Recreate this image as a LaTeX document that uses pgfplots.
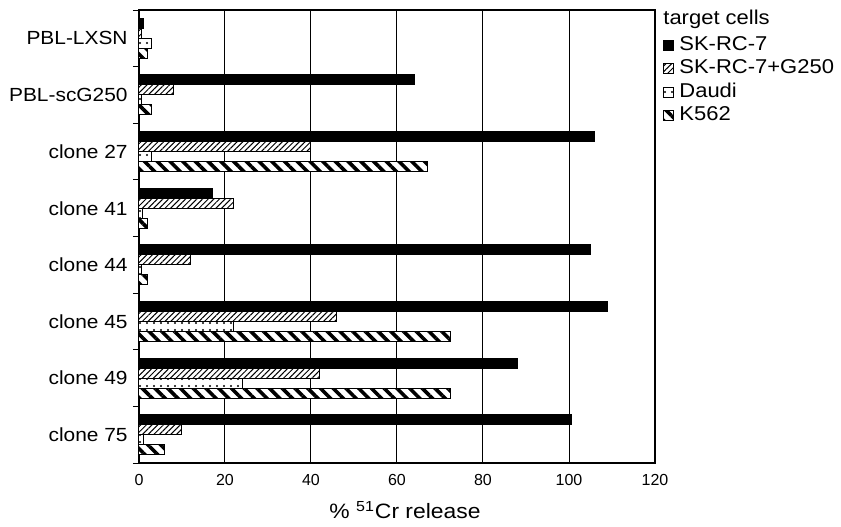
\documentclass[border=0pt]{standalone}
\usepackage{fontspec}
\setmainfont{Liberation Sans}[FakeStretch=1.1]
\newfontfamily\numfont{Liberation Sans}
\usepackage{pgfplots}
\usepackage{pgfplotstable}
\pgfplotsset{compat=1.18}
\usetikzlibrary{patterns.meta}

% % 51Cr release per effector population and target cell line
\pgfplotstableread{
cat sk    skg  daudi k562
0   1     0.5  3     2
1   64    8    0.5   3
2   106   40   3     67
3   17    22   0.7   2
4   105   12   0.5   2
5   109   46   22    72.5
6   88    42   24    72.5
7   100.5 10   1     6
}\release

\pgfplotsset{
  legimg/.style={legend image code/.code={
    \draw[##1, line width=0.5pt] (0pt,-2.5pt) rectangle (5pt,2.5pt);}},
  barline/.style={draw=black, line width=0.5pt},
}

\begin{document}
\begin{tikzpicture}
\path[use as bounding box] (-69.5pt,-31.5pt) rectangle (351pt,231.5pt);
\begin{axis}[
  scale only axis, width=258pt, height=226.5pt,
  xbar=0pt, bar width=5pt, clip=false,
  xmin=0, xmax=120, ymin=-0.5, ymax=7.5, y dir=reverse,
  xtick={0,20,...,120},
  ytick={0,...,7},
  yticklabels={PBL-LXSN, PBL-scG250, clone 27, clone 41, clone 44, clone 45, clone 49, clone 75},
  minor ytick={-0.5,0.5,...,7.5},
  major tick length=0pt, minor tick length=3pt, tick align=outside,
  xtick pos=bottom, ytick pos=left,
  minor tick style={black, line width=0.5pt},
  xmajorgrids, grid style={black, line width=0.5pt},
  axis line style={black, line width=0.6pt},
  /pgf/number format/assume math mode=true,
  xticklabel style={font=\numfont\fontsize{8}{9.6}\selectfont, yshift=-2pt},
  yticklabel style={font=\fontsize{9.5}{11}\selectfont, anchor=east, inner sep=0pt, xshift=-5.5pt},
  xlabel={\% \textsuperscript{51}Cr release},
  xlabel style={font=\fontsize{10.4}{12}\selectfont, at={(axis description cs:0.5,-0.1236)}, anchor=base, xshift=4pt},
  legend cell align=left,
  legend style={at={(axis description cs:1.0155,0.9435)}, anchor=north west,
    draw=none, fill=none, inner sep=0pt, row sep=2.75pt,
    nodes={inner sep=0pt, text height=7pt, text depth=2pt, font=\fontsize{10}{12}\selectfont},
    /tikz/every odd column/.append style={column sep=2.5pt}},
]
\addplot[barline, bar shift=7.5pt, fill=black, legimg] table[x=sk, y=cat] {\release};
\addplot[barline, bar shift=2.5pt, preaction={fill=white}, pattern={Lines[angle=45,distance=2pt,line width=0.5pt]}, legimg] table[x=skg, y=cat] {\release};
\addplot[barline, bar shift=-2.5pt, preaction={fill=white}, pattern={Dots[distance=3.5pt,radius=0.6pt]}, legimg] table[x=daudi, y=cat] {\release};
\addplot[barline, bar shift=-7.5pt, preaction={fill=white}, pattern={Lines[angle=-45,distance=4.5pt,line width=1.8pt]}, legimg] table[x=k562, y=cat] {\release};
\legend{SK-RC-7, SK-RC-7+G250, Daudi, K562}
\node[anchor=base west, inner sep=0pt, font=\fontsize{10}{12}\selectfont] at (axis description cs:1.0155,0.968) {target cells};
\end{axis}
\end{tikzpicture}
\end{document}
